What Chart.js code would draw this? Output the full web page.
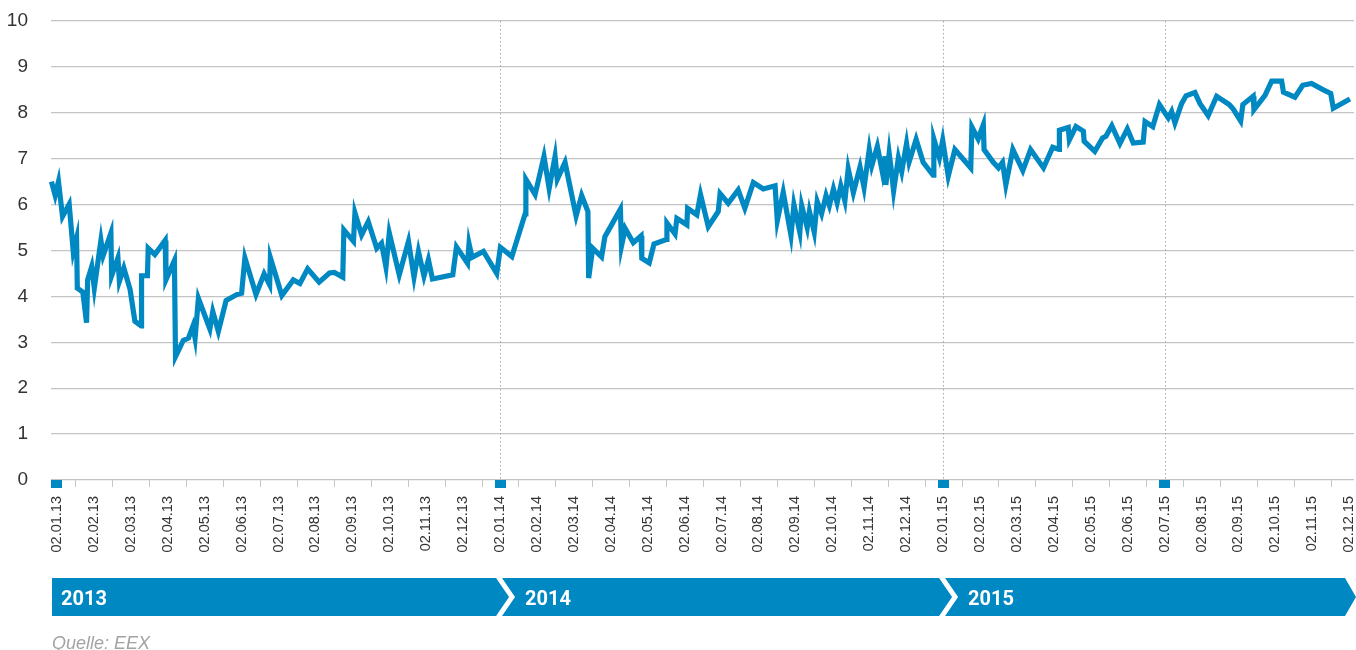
<!DOCTYPE html>
<html><head><meta charset="utf-8">
<script src="https://cdn.jsdelivr.net/npm/chart.js@4/dist/chart.umd.min.js"></script>
<style>
html,body{margin:0;padding:0;background:#fff;}
#wrap{position:relative;width:1356px;height:650px;overflow:hidden;}
#c{position:absolute;left:0;top:0;}
#ov{position:absolute;left:0;top:0;}
</style></head><body>
<div id="wrap"><canvas id="c" width="1356" height="650"></canvas>
<svg id="ov" width="1356" height="650" xmlns="http://www.w3.org/2000/svg"></svg></div>
<script>
// ---- data ----
const tickLabels = [
 '02.01.13','02.02.13','02.03.13','02.04.13','02.05.13','02.06.13','02.07.13','02.08.13','02.09.13','02.10.13','02.11.13','02.12.13',
 '02.01.14','02.02.14','02.03.14','02.04.14','02.05.14','02.06.14','02.07.14','02.08.14','02.09.14','02.10.14','02.11.14','02.12.14',
 '02.01.15','02.02.15','02.03.15','02.04.15','02.05.15','02.06.15','02.07.15','02.08.15','02.09.15','02.10.15','02.11.15','02.12.15'];
const yTicks = [0,1,2,3,4,5,6,7,8,9,10];
// position in months since 02.01.13
const months = [
 -0.15,-0.05,0.04,0.15,0.33,0.44,0.53,0.55,0.70,0.80,0.83,0.94,1.01,1.19,1.25,1.46,1.48,1.65,1.69,1.81,
 1.98,2.11,2.28,2.29,2.45,2.47,2.65,2.93,2.95,3.18,3.21,3.42,3.56,3.68,3.74,3.83,4.14,4.22,4.37,4.58,
 4.87,5.00,5.09,5.39,5.61,5.76,5.78,6.09,6.40,6.58,6.79,7.10,7.38,7.51,7.74,7.77,8.03,8.07,8.25,8.43,
 8.66,8.79,8.91,9.00,9.27,9.52,9.67,9.79,9.94,10.06,10.17,10.72,10.82,11.12,11.16,11.24,11.55,11.91,12.01,12.32,
 12.68,12.70,12.95,13.19,13.33,13.49,13.55,13.76,14.06,14.21,14.38,14.40,14.51,14.75,14.84,15.26,15.29,15.39,15.61,15.82,
 15.84,16.04,16.17,16.50,16.52,16.74,16.79,17.06,17.08,17.33,17.43,17.64,17.91,17.96,18.18,18.45,18.63,18.86,19.13,19.45,
 19.51,19.67,19.88,19.96,20.12,20.17,20.32,20.38,20.51,20.59,20.71,20.83,20.92,21.03,21.13,21.23,21.34,21.43,21.57,21.75,
 21.86,22.00,22.07,22.22,22.36,22.43,22.45,22.54,22.59,22.66,22.79,22.88,23.01,23.08,23.27,23.46,23.73,23.75,23.90,23.99,
 24.14,24.32,24.75,24.78,24.95,25.09,25.11,25.36,25.50,25.61,25.70,25.89,26.16,26.37,26.72,26.97,27.14,27.15,27.39,27.42,
 27.60,27.80,27.82,28.11,28.32,28.41,28.57,28.79,28.99,29.15,29.42,29.47,29.68,29.86,30.10,30.19,30.28,30.46,30.58,30.82,
 30.96,31.18,31.41,31.75,31.86,32.06,32.12,32.40,32.42,32.72,32.90,33.17,33.22,33.53,33.74,33.98,34.30,34.50,34.57,35.02];
const prices = [
 6.50,6.20,6.50,5.74,6.01,4.98,5.27,4.18,4.09,3.43,4.36,4.65,4.18,5.22,4.89,5.38,4.45,4.84,4.33,4.62,
 4.15,3.46,3.36,4.45,4.45,5.05,4.91,5.22,4.36,4.78,2.69,3.04,3.09,3.35,3.09,3.96,3.29,3.67,3.24,3.91,
 4.04,4.07,4.84,4.04,4.49,4.25,4.84,4.02,4.36,4.28,4.60,4.31,4.51,4.52,4.42,5.45,5.20,5.82,5.34,5.63,
 5.05,5.16,4.64,5.38,4.47,5.20,4.42,4.98,4.44,4.80,4.38,4.47,5.08,4.72,5.15,4.85,4.98,4.50,5.07,4.87,
 5.80,6.55,6.22,7.05,6.35,7.05,6.55,6.92,5.75,6.20,5.85,4.40,5.05,4.86,5.30,5.90,5.10,5.48,5.17,5.32,
 4.83,4.73,5.14,5.24,5.60,5.36,5.70,5.56,5.92,5.78,6.22,5.52,5.85,6.24,6.03,6.32,5.92,6.48,6.34,6.41,
 5.65,6.27,5.33,6.00,5.40,5.98,5.50,5.85,5.40,6.07,5.80,6.20,5.98,6.34,6.04,6.41,6.08,6.78,6.26,6.82,
 6.37,7.20,6.85,7.27,6.69,7.05,6.43,7.12,6.80,6.30,7.02,6.72,7.33,6.93,7.42,6.92,6.64,7.43,7.02,7.40,
 6.62,7.20,6.80,7.69,7.43,7.74,7.20,6.92,6.80,6.92,6.43,7.20,6.74,7.20,6.80,7.25,7.20,7.62,7.68,7.41,
 7.70,7.60,7.38,7.16,7.45,7.49,7.72,7.33,7.65,7.34,7.36,7.81,7.70,8.18,7.89,8.03,7.78,8.20,8.37,8.44,
 8.20,7.94,8.36,8.18,8.08,7.82,8.18,8.36,8.07,8.38,8.69,8.69,8.45,8.34,8.60,8.64,8.50,8.42,8.10,8.30];
const yearLabels = ['2013','2014','2015'];
const yearStartMonths = [0,12,24];
const markerMonths = [0,12,24,30];
const dividerMonths = [12,24,30];
const sourceText = 'Quelle: EEX';

// ---- style ----
const BLUE = '#0088c2';
const GRID = '#c4c4c4';
const FONT = "'Liberation Sans', Arial, sans-serif";

const decor = {
  id: 'decor',
  beforeDatasetsDraw(chart) {
    const {ctx, chartArea: a, scales: {x}} = chart;
    ctx.save();
    ctx.strokeStyle = '#c8c8c8'; ctx.lineWidth = 1;
    for (let i = 0; i < tickLabels.length - 1; i++) {
      const px = Math.round(x.getPixelForValue(i + 0.5)) + 0.5;
      ctx.beginPath(); ctx.moveTo(px, a.bottom); ctx.lineTo(px, a.bottom + 7); ctx.stroke();
    }
    ctx.strokeStyle = '#a8a8a8'; ctx.setLineDash([1.5, 2.5]);
    dividerMonths.forEach(m => {
      const px = Math.round(x.getPixelForValue(m)) + 0.5;
      ctx.beginPath(); ctx.moveTo(px, a.top); ctx.lineTo(px, a.bottom); ctx.stroke();
    });
    ctx.restore();
  },
  afterDraw(chart) {
    const {ctx, chartArea: a, scales: {x}} = chart;
    ctx.save();
    ctx.fillStyle = BLUE;
    markerMonths.forEach(m => {
      const px = x.getPixelForValue(m);
      ctx.fillRect(Math.round(px - 5.5), Math.round(a.bottom), 11, 8);
    });
    ctx.restore();
  }
};

const chart = new Chart(document.getElementById('c'), {
  type: 'line',
  data: {
    datasets: [{
      data: months.map((m, i) => ({x: m, y: prices[i]})),
      borderColor: BLUE, borderWidth: 5.2, pointRadius: 0, tension: 0,
      borderJoinStyle: 'miter', fill: false, clip: 6
    }]
  },
  options: {
    responsive: false, animation: false, events: [],
    layout: {padding: {top: 21, right: 2, left: 0, bottom: 0}},
    plugins: {legend: {display: false}, tooltip: {enabled: false}},
    scales: {
      x: {
        type: 'linear', min: -0.1625, max: 35.13,
        afterBuildTicks: s => { s.ticks = tickLabels.map((_, i) => ({value: i})); },
        afterFit: s => { s.height = 170; s.paddingLeft = 0; s.paddingRight = 0; },
        grid: {display: false, drawTicks: false},
        border: {display: false},
        ticks: {
          autoSkip: false, minRotation: 90, maxRotation: 90, padding: 16,
          color: '#333', font: {family: FONT, size: 14.5},
          callback: (v) => tickLabels[Math.round(v)]
        }
      },
      y: {
        min: 0, max: 10,
        afterBuildTicks: s => { s.ticks = yTicks.map(v => ({value: v})); },
        afterFit: s => { s.width = 51; s.paddingTop = 0; s.paddingBottom = 0; },
        grid: {color: GRID, lineWidth: 1.3, drawTicks: false},
        border: {display: false},
        ticks: {padding: 23, color: '#333', font: {family: FONT, size: 19}}
      }
    }
  },
  plugins: [decor]
});

// ---- year ribbon + source (SVG text) ----
(function () {
  const x = chart.scales.x;
  const svg = document.getElementById('ov');
  const NS = 'http://www.w3.org/2000/svg';
  const top = 578, bot = 616, mid = 597, d = 13, gap = 6;
  const left = 52, rightFlat = 1345, rightTip = 1356;
  const cuts = yearStartMonths.slice(1).map(m => x.getPixelForValue(m) - 4);
  yearLabels.forEach((lab, i) => {
    const pts = [];
    if (i === 0) { pts.push([left, top]); }
    else { const c = cuts[i - 1] + gap; pts.push([c, top]); }
    if (i < yearLabels.length - 1) {
      const c = cuts[i]; pts.push([c, top], [c + d, mid], [c, bot]);
    } else {
      pts.push([rightFlat, top], [rightTip, mid], [rightFlat, bot]);
    }
    if (i === 0) { pts.push([left, bot]); }
    else { const c = cuts[i - 1] + gap; pts.push([c, bot], [c + d, mid]); }
    const poly = document.createElementNS(NS, 'polygon');
    poly.setAttribute('points', pts.map(p => p.join(',')).join(' '));
    poly.setAttribute('fill', BLUE);
    svg.appendChild(poly);
    const t = document.createElementNS(NS, 'text');
    const tx = i === 0 ? 61 : cuts[i - 1] + gap + d + 10;
    t.setAttribute('x', tx); t.setAttribute('y', 604.5);
    t.setAttribute('fill', '#fff');
    t.setAttribute('font-family', "Roboto, 'Liberation Sans', Arial, sans-serif");
    t.setAttribute('font-weight', 'bold'); t.setAttribute('font-size', '20');
    t.textContent = lab;
    svg.appendChild(t);
  });
  const s = document.createElementNS(NS, 'text');
  s.setAttribute('x', 52); s.setAttribute('y', 649);
  s.setAttribute('fill', '#a3a3a3');
  s.setAttribute('font-family', FONT); s.setAttribute('font-style', 'italic');
  s.setAttribute('font-size', '18');
  s.textContent = sourceText;
  svg.appendChild(s);
})();
</script>
</body></html>
